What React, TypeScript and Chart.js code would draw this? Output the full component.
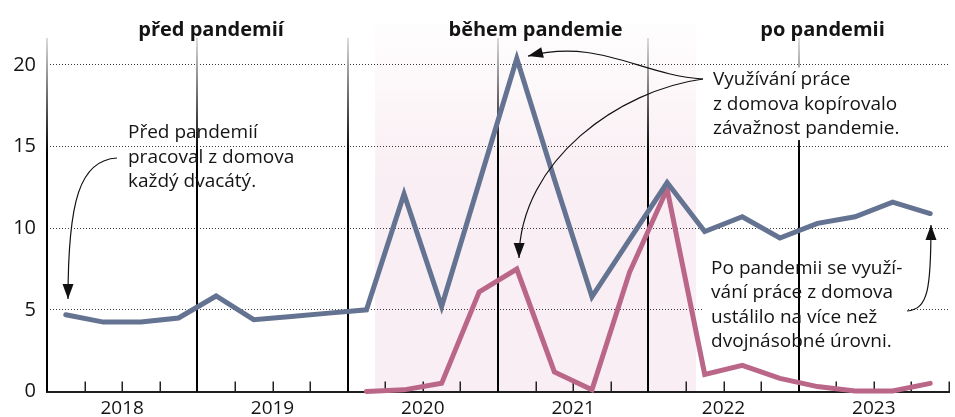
import { useEffect, useRef } from 'react';
import { Chart, registerables } from 'chart.js';

Chart.register(...registerables);

// ---------- data ----------
const YEARS = ['2018', '2019', '2020', '2021', '2022', '2023'];
const QUARTERS = YEARS.flatMap((y) => ['Q1', 'Q2', 'Q3', 'Q4'].map((q) => `${y} ${q}`));

// share of workers working from home at least sometimes (%)
const HOME_WORK = [
  4.7, 4.25, 4.25, 4.5,
  5.85, 4.4, 4.6, 4.8,
  5.0, 12.1, 5.2, 12.8,
  20.4, 13.0, 5.8, 9.3,
  12.8, 9.8, 10.7, 9.4,
  10.3, 10.7, 11.6, 10.9,
];
// second series (pink), starts in 2020
const HOME_WORK_COVID = [
  null, null, null, null,
  null, null, null, null,
  0.0, 0.1, 0.5, 6.1,
  7.5, 1.2, 0.1, 7.3,
  12.4, 1.05, 1.6, 0.8,
  0.3, 0.03, 0.03, 0.5,
];

const Y_TICKS = [0, 5, 10, 15, 20];
const Y_MAX = 21.65;
const PHASES = ['před pandemií', 'během pandemie', 'po pandemii'];
// pandemic period, in quarter units from start of 2018
const PANDEMIC_START = 8.73;
const PANDEMIC_END = 17.27;
const SHADE_TOP = 22.45;
const PHASE_LABEL_Y = 21.77;

const NOTE_BEFORE = ['Před pandemií', 'pracoval z domova', 'každý dvacátý.'];
const NOTE_DURING = ['Využívání práce', 'z domova kopírovalo', 'závažnost pandemie.'];
const NOTE_AFTER = ['Po pandemii se využí-', 'vání práce z domova', 'ustálilo na více než', 'dvojnásobné úrovni.'];

// annotation anchors in data units [quarter position, value]
const NOTE_BEFORE_AT: [number, number] = [2.155, 15.52];
const NOTE_DURING_AT: [number, number] = [17.72, 18.77];
const NOTE_AFTER_AT: [number, number] = [17.67, 7.2];
const BOX_DURING: [number, number, number, number] = [17.455, 19.85, 22.883, 15.4];
const BOX_AFTER: [number, number, number, number] = [17.455, 8.75, 22.883, 2.42];

type P = [number, number];
const ARROWS: P[][] = [
  [[1.863, 14.3], [0.878, 14.18], [0.559, 11.73], [0.559, 5.66]],
  [[17.455, 19.14], [15.779, 19.38], [14.714, 21.65], [12.798, 20.54]],
  [[17.455, 19.14], [15.246, 18.46], [12.585, 14.18], [12.559, 8.18]],
  [[22.883, 4.93], [23.441, 5.05], [23.521, 6.22], [23.521, 10.19]],
];

const BLUE = '#647391';
const PINK = '#ba6688';
const TEXT = '#141414';
const NOTE_FONT = '19px "Open Sans", sans-serif';
const PHASE_FONT = 'bold 20px "Liberation Sans Narrow", "Open Sans", sans-serif';
const LINE_H = 24.5;

const overlay = {
  id: 'overlay',
  beforeDraw(chart: any) {
    const { ctx, scales } = chart;
    const x = scales.x, y = scales.y;
    const x0 = x.getPixelForValue(PANDEMIC_START);
    const x1 = x.getPixelForValue(PANDEMIC_END);
    const top = y.getPixelForValue(SHADE_TOP);
    const bottom = y.getPixelForValue(0);
    const g = ctx.createLinearGradient(0, top, 0, y.getPixelForValue(13));
    g.addColorStop(0, 'rgba(249,238,243,0.1)');
    g.addColorStop(1, 'rgba(249,238,243,1)');
    ctx.save();
    ctx.fillStyle = g;
    ctx.fillRect(x0, top, x1 - x0, bottom - top);
    ctx.restore();
  },
  beforeDatasetsDraw(chart: any) {
    const { ctx, chartArea, scales } = chart;
    const x = scales.x, y = scales.y;
    const box = (b: number[]) => {
      const bx0 = x.getPixelForValue(b[0]);
      const by0 = y.getPixelForValue(b[1]);
      const bx1 = x.getPixelForValue(b[2]);
      const by1 = y.getPixelForValue(b[3]);
      ctx.fillStyle = '#ffffff';
      ctx.fillRect(bx0, by0, bx1 - bx0, by1 - by0);
    };
    ctx.save();
    box(BOX_AFTER);
    // year boundary lines
    const axisY = y.getPixelForValue(0);
    for (let q = 0; q < QUARTERS.length; q += 4) {
      const px = Math.round(x.getPixelForValue(q));
      const g = ctx.createLinearGradient(0, chartArea.top, 0, chartArea.top + 115);
      g.addColorStop(0, '#dcdcdc');
      g.addColorStop(1, '#000000');
      ctx.strokeStyle = g;
      ctx.lineWidth = 2;
      ctx.beginPath();
      ctx.moveTo(px, chartArea.top);
      ctx.lineTo(px, axisY);
      ctx.stroke();
    }
    box(BOX_DURING);
    // quarter ticks
    ctx.strokeStyle = '#222';
    ctx.lineWidth = 1.5;
    for (let q = 1; q <= QUARTERS.length; q++) {
      if (q % 4 === 0 && q !== QUARTERS.length) continue;
      const px = Math.round(x.getPixelForValue(q)) + 0.25;
      ctx.beginPath();
      ctx.moveTo(px, axisY - 10);
      ctx.lineTo(px, axisY);
      ctx.stroke();
    }
    ctx.restore();
  },
  afterDatasetsDraw(chart: any) {
    const { ctx, scales } = chart;
    const x = scales.x, y = scales.y;
    const pt = (p: P) => [x.getPixelForValue(p[0]), y.getPixelForValue(p[1])];
    ctx.save();
    // arrows
    ctx.strokeStyle = '#111';
    ctx.fillStyle = '#111';
    ctx.lineWidth = 1.2;
    for (const a of ARROWS) {
      const [s, c1, c2, t] = a.map(pt);
      ctx.beginPath();
      ctx.moveTo(s[0], s[1]);
      ctx.bezierCurveTo(c1[0], c1[1], c2[0], c2[1], t[0], t[1]);
      ctx.stroke();
      const ang = Math.atan2(t[1] - c2[1], t[0] - c2[0]);
      const len = 15, hw = 5.5;
      const bx = t[0] - Math.cos(ang) * len;
      const by = t[1] - Math.sin(ang) * len;
      ctx.beginPath();
      ctx.moveTo(t[0], t[1]);
      ctx.lineTo(bx - Math.sin(ang) * hw, by + Math.cos(ang) * hw);
      ctx.lineTo(bx + Math.sin(ang) * hw, by - Math.cos(ang) * hw);
      ctx.closePath();
      ctx.fill();
    }
    // notes
    ctx.fillStyle = TEXT;
    ctx.font = NOTE_FONT;
    ctx.textAlign = 'left';
    ctx.textBaseline = 'alphabetic';
    const note = (lines: string[], at: P) => {
      const [px, py] = pt(at);
      lines.forEach((l, i) => ctx.fillText(l, px, py + i * LINE_H));
    };
    note(NOTE_BEFORE, NOTE_BEFORE_AT);
    note(NOTE_DURING, NOTE_DURING_AT);
    note(NOTE_AFTER, NOTE_AFTER_AT);
    // phase labels
    ctx.font = PHASE_FONT;
    ctx.textAlign = 'center';
    const bounds = [0, PANDEMIC_START, PANDEMIC_END, QUARTERS.length];
    PHASES.forEach((p, i) => {
      const cx = x.getPixelForValue((bounds[i] + bounds[i + 1]) / 2);
      ctx.fillText(p, cx, y.getPixelForValue(PHASE_LABEL_Y));
    });
    ctx.restore();
  },
};

export default function App() {
  const ref = useRef<HTMLCanvasElement>(null);
  useEffect(() => {
    document.body.style.margin = '0';
    const canvas = ref.current!;
    const chart = new Chart(canvas, {
      type: 'line',
      data: {
        labels: QUARTERS,
        datasets: [
          {
            label: 'z domova',
            data: HOME_WORK.map((v, i) => ({ x: i + 0.5, y: v })),
            borderColor: BLUE,
            borderWidth: 5,
            pointRadius: 0,
            borderJoinStyle: 'miter',
            borderCapStyle: 'round',
            clip: false,
          },
          {
            label: 'kvůli pandemii',
            data: HOME_WORK_COVID.map((v, i) => ({ x: i + 0.5, y: v })).filter((d) => d.y !== null) as any,
            borderColor: PINK,
            borderWidth: 5,
            pointRadius: 0,
            borderJoinStyle: 'miter',
            borderCapStyle: 'round',
            clip: false,
          },
        ],
      },
      options: {
        responsive: false,
        animation: false,
        events: [],
        layout: { padding: { top: 38, right: 5.5, left: 0, bottom: 0 } },
        plugins: { legend: { display: false }, tooltip: { enabled: false } },
        scales: {
          x: {
            type: 'linear',
            min: 0,
            max: QUARTERS.length,
            afterBuildTicks: (s: any) => {
              s.ticks = QUARTERS.map((_, i) => ({ value: i })).concat([{ value: QUARTERS.length }]);
            },
            afterFit: (s: any) => {
              s.height = 25.5;
            },
            grid: { display: true, drawOnChartArea: false, drawTicks: false },
            border: { display: true, color: '#1e1e1e', width: 2 },
            ticks: {
              autoSkip: false,
              maxRotation: 0,
              padding: 6,
              color: TEXT,
              font: { family: '"Open Sans", sans-serif', size: 19 },
              callback: (v: any) => {
                const n = Math.round(Number(v));
                return n % 4 === 2 ? YEARS[(n - 2) / 4] : '';
              },
            },
          },
          y: {
            type: 'linear',
            min: 0,
            max: Y_MAX,
            afterBuildTicks: (s: any) => {
              s.ticks = Y_TICKS.map((v) => ({ value: v }));
            },
            afterFit: (s: any) => {
              s.width = 47;
            },
            grid: {
              color: (c: any) => (c.tick && c.tick.value === 0 ? 'rgba(0,0,0,0)' : '#3a3a3a'),
              lineWidth: 1,
              drawTicks: false,
            },
            border: { display: false, dash: [1, 2] },
            ticks: {
              padding: 11,
              color: TEXT,
              font: { family: '"Open Sans", sans-serif', size: 20 },
            },
          },
        },
      },
      plugins: [overlay],
    });
    return () => chart.destroy();
  }, []);
  return (
    <div style={{ width: 955, height: 417 }}>
      <canvas ref={ref} width={955} height={417} style={{ display: 'block' }} />
    </div>
  );
}
